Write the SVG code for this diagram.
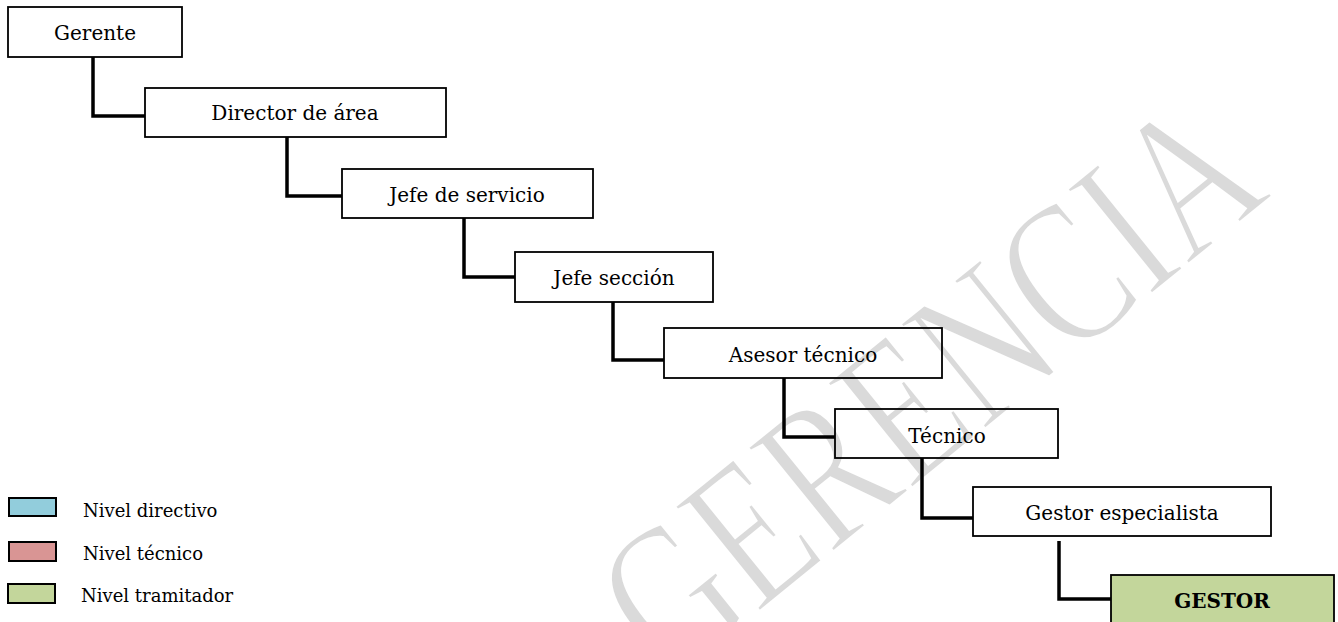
<svg xmlns="http://www.w3.org/2000/svg" width="1338" height="622" viewBox="0 0 1338 622">
<style>
.box{fill:none;stroke:#000;stroke-width:1.8}
.lbl{font-family:"DejaVu Serif","Liberation Serif",serif;font-size:20px;fill:#000;text-anchor:middle}
.conn{fill:none;stroke:#000;stroke-width:3.5;stroke-linejoin:miter}
.leg{font-family:"DejaVu Serif","Liberation Serif",serif;font-size:18px;fill:#000}
.sw{stroke:#000;stroke-width:2}
.wm{font-family:"Liberation Serif",serif;font-size:185px;fill:#dadada;stroke:#fff;stroke-width:3;text-anchor:middle}
</style>
<rect width="1338" height="622" fill="#fff"/>
<g id="watermark">
<text class="wm" transform="translate(972,440) rotate(-39) scale(0.83,1.12)">GERENCIA</text>
</g>
<g id="connectors">
<polyline class="conn" points="93,57 93,116 145,116"/>
<polyline class="conn" points="287,137 287,196 342,196"/>
<polyline class="conn" points="464,218 464,277 515,277"/>
<polyline class="conn" points="613,302 613,360 664,360"/>
<polyline class="conn" points="784,378 784,437 835,437"/>
<polyline class="conn" points="922,458 922,518 973,518"/>
<polyline class="conn" points="1059,541 1059,599 1111,599"/>
</g>
<g id="gerente"><rect class="box" x="8" y="7" width="174" height="50"/><text class="lbl" x="95" y="40">Gerente</text></g>
<g id="director"><rect class="box" x="145" y="88" width="301" height="49"/><text class="lbl" x="295" y="120">Director de área</text></g>
<g id="jefe-servicio"><rect class="box" x="342" y="169" width="251" height="49"/><text class="lbl" x="467" y="202">Jefe de servicio</text></g>
<g id="jefe-seccion"><rect class="box" x="515" y="252" width="198" height="50"/><text class="lbl" x="614" y="285">Jefe sección</text></g>
<g id="asesor"><rect class="box" x="664" y="328" width="278" height="50"/><text class="lbl" x="803" y="362">Asesor técnico</text></g>
<g id="tecnico"><rect class="box" x="835" y="409" width="223" height="49"/><text class="lbl" x="947" y="443">Técnico</text></g>
<g id="gestor-esp"><rect class="box" x="973" y="487" width="298" height="49"/><text class="lbl" x="1122" y="520">Gestor especialista</text></g>
<g id="gestor"><rect x="1111" y="575" width="223" height="60" fill="#c3d69b" stroke="#000" stroke-width="1.8"/><text class="lbl" x="1222" y="608" style="font-weight:bold">GESTOR</text></g>
<g id="legend">
<rect class="sw" x="9" y="498" width="47" height="18" fill="#92cddc"/>
<text class="leg" x="83" y="517">Nivel directivo</text>
<rect class="sw" x="9" y="542" width="47" height="19" fill="#d99594"/>
<text class="leg" x="83" y="560">Nivel técnico</text>
<rect class="sw" x="8" y="584" width="47" height="19" fill="#c3d69b"/>
<text class="leg" x="81" y="602">Nivel tramitador</text>
</g>
</svg>
